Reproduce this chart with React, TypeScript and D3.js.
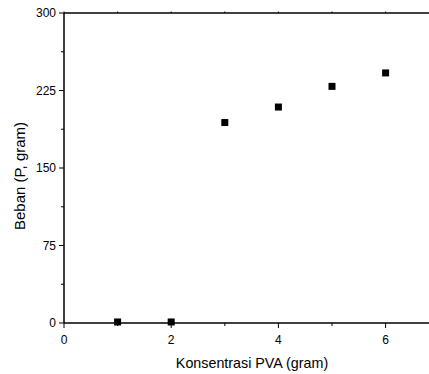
import React from "react";
import * as d3 from "d3";

const konsentrasi = [1, 2, 3, 4, 5, 6];
const beban = [1, 1, 194, 209, 229, 242];
const xTicks = [0, 2, 4, 6];
const xMinorTicks = [1, 3, 5];
const yTicks = [0, 75, 150, 225, 300];
const yMinorTicks = [37.5, 112.5, 187.5, 262.5];
const xTitle = "Konsentrasi PVA (gram)";
const yTitle = "Beban (P, gram)";

export default function App() {
  const W = 429, H = 374;
  const left = 64, top = 13, bottom = 323;
  const x = d3.scaleLinear().domain([0, 7]).range([left, left + 7 * 53.6]);
  const y = d3.scaleLinear().domain([0, 300]).range([bottom, top]);
  const font = "Arial, 'Liberation Sans', sans-serif";
  const sq = 7;
  return (
    <svg width={W} height={H} style={{ position: "absolute", left: 0, top: 0 }}>
      <rect width={W} height={H} fill="#fff" />
      {/* frame */}
      <line x1={left} x2={W} y1={top} y2={top} stroke="#000" strokeWidth={1.5} />
      <line x1={left} x2={left} y1={top} y2={bottom} stroke="#000" strokeWidth={1.5} />
      <line x1={left} x2={W} y1={bottom} y2={bottom} stroke="#000" strokeWidth={1.5} />
      {/* y ticks */}
      {yTicks.map((t) => (
        <g key={"y" + t}>
          <line x1={left - 5} x2={left} y1={y(t)} y2={y(t)} stroke="#000" strokeWidth={1} />
          <text x={left - 8} y={y(t)} dy="0.35em" textAnchor="end" fontFamily={font} fontSize={12}>{t}</text>
        </g>
      ))}
      {yMinorTicks.map((t) => (
        <line key={"ym" + t} x1={left - 3} x2={left} y1={y(t)} y2={y(t)} stroke="#000" strokeWidth={1} />
      ))}
      {/* x ticks */}
      {xTicks.map((t) => (
        <g key={"x" + t}>
          <line x1={x(t)} x2={x(t)} y1={bottom} y2={bottom + 5} stroke="#000" strokeWidth={1} />
          <line x1={x(t)} x2={x(t)} y1={top} y2={top - 1.5} stroke="#000" strokeWidth={1} />
          <text x={x(t)} y={bottom + 17} dy="0.35em" textAnchor="middle" fontFamily={font} fontSize={12}>{t}</text>
        </g>
      ))}
      {xMinorTicks.map((t) => (
        <g key={"xm" + t}>
          <line x1={x(t)} x2={x(t)} y1={bottom} y2={bottom + 3} stroke="#000" strokeWidth={1} />
          <line x1={x(t)} x2={x(t)} y1={top} y2={top - 1.5} stroke="#000" strokeWidth={1} />
        </g>
      ))}
      {/* points */}
      {konsentrasi.map((k, i) => (
        <rect key={"p" + i} x={x(k) - sq / 2} y={y(beban[i]) - sq / 2} width={sq} height={sq} fill="#000" />
      ))}
      {/* titles */}
      <text x={252} y={368} textAnchor="middle" fontFamily={font} fontSize={14.3}>{xTitle}</text>
      <text transform={`translate(25,176) rotate(-90)`} textAnchor="middle" fontFamily={font} fontSize={15}>{yTitle}</text>
    </svg>
  );
}
